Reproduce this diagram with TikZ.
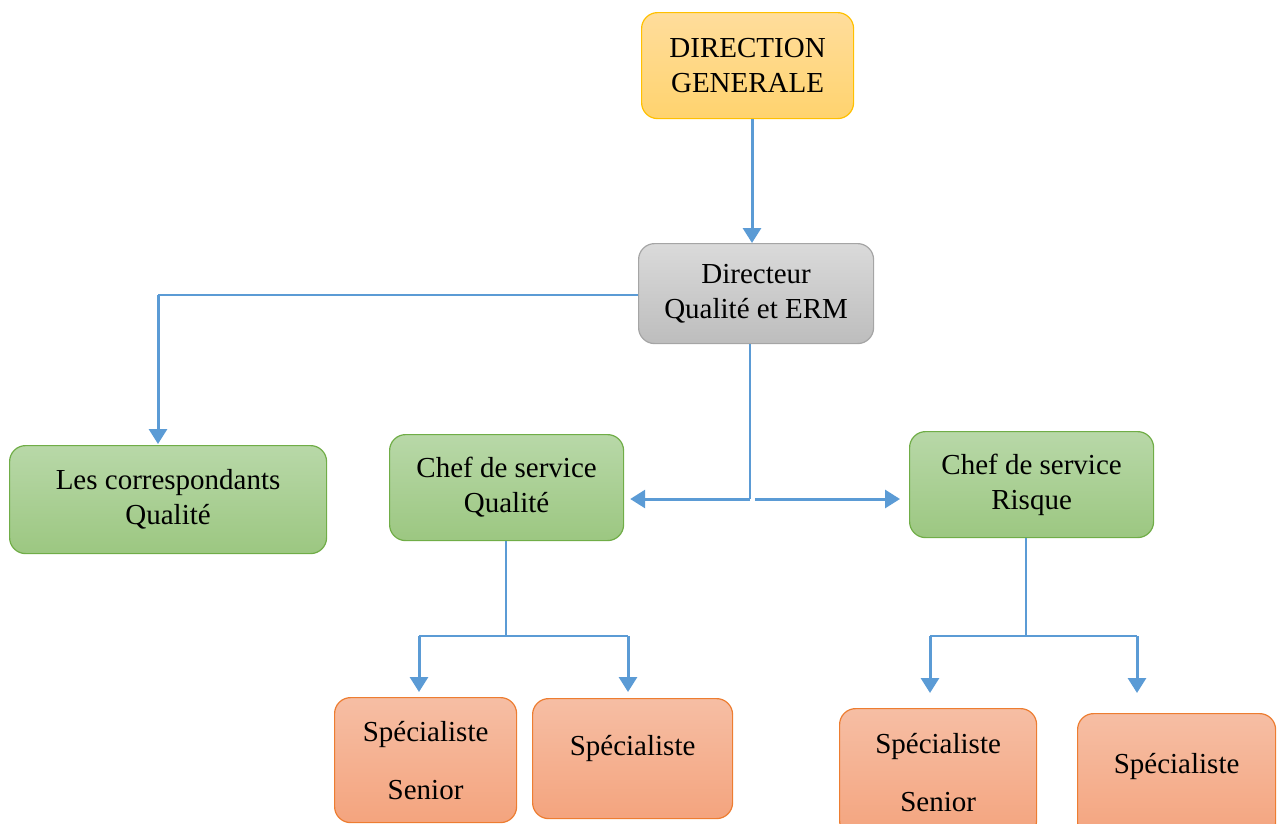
\documentclass[tikz,border=0pt]{standalone}
\usepackage{fontspec}
\setmainfont{Liberation Serif}
\usetikzlibrary{arrows.meta,calc}
\definecolor{lnblue}{HTML}{5B9BD5}
\definecolor{dgtop}{HTML}{FFDD9C}
\definecolor{dgbot}{HTML}{FFD36E}
\definecolor{dgborder}{HTML}{FFC000}
\definecolor{grtop}{HTML}{DADADA}
\definecolor{grbot}{HTML}{BDBDBD}
\definecolor{grborder}{HTML}{A5A5A5}
\definecolor{gntop}{HTML}{B8D8A8}
\definecolor{gnbot}{HTML}{9CC781}
\definecolor{gnborder}{HTML}{70AD47}
\definecolor{ortop}{HTML}{F6BEA4}
\definecolor{orbot}{HTML}{F4A47E}
\definecolor{orborder}{HTML}{ED7D31}
\begin{document}
\begin{tikzpicture}[x=1pt,y=-1pt,
  box/.style={rounded corners=16pt, anchor=north west, align=center, inner sep=0pt,
    font=\fontsize{29}{35}\selectfont, line width=1.2pt, text=black},
  dgbox/.style={box, draw=dgborder, top color=dgtop, bottom color=dgbot},
  graybox/.style={box, draw=grborder, top color=grtop, bottom color=grbot},
  greenbox/.style={box, draw=gnborder, top color=gntop, bottom color=gnbot},
  specbox/.style={box, draw=orborder, top color=ortop, bottom color=orbot},
  thinline/.style={draw=lnblue, line width=1.3pt},
  arrowline/.style={draw=lnblue, line width=3pt, -{Triangle[width=18pt,length=15pt]}},
]
\useasboundingbox (0,0) rectangle (1278,823);
\clip (0,0) rectangle (1278,823);

\node[dgbox, minimum width=212pt, minimum height=106pt] (dg) at (641,12) {DIRECTION\\GENERALE};
\node[graybox, minimum width=235pt, minimum height=100pt] (dir) at (638,243) {Directeur\\Qualité et ERM};
\node[greenbox, minimum width=317pt, minimum height=108pt] (corr) at (9,445) {Les correspondants\\Qualité};
\node[greenbox, minimum width=234pt, minimum height=106pt] (cq) at (389,434) {Chef de service\\Qualité};
\node[greenbox, minimum width=244pt, minimum height=106pt] (cr) at (909,431) {Chef de service\\Risque};
\node[specbox, minimum width=182pt, minimum height=125pt] (ss1) at (334,697) {Spécialiste\\[23pt]Senior};
\node[specbox, minimum width=200pt, minimum height=120pt, text depth=26pt] (s1) at (532,698) {Spécialiste};
\node[specbox, minimum width=197pt, minimum height=128pt] (ss2) at (839,708) {Spécialiste\\[23pt]Senior};
\node[specbox, minimum width=198pt, minimum height=125pt, text depth=26pt] (s2) at (1077,713) {Spécialiste};

% direction -> directeur
\draw[arrowline] (dg.south -| 752,0) -- (dir.north -| 752,0);

% directeur -> correspondants
\coordinate (j1) at (158,295);
\draw[thinline] (dir.west |- j1) -- (j1);
\draw[arrowline, shorten >=1pt] (j1) -- (corr.north -| j1);

% directeur -> chefs de service
\coordinate (j2) at (750,499);
\coordinate (j2r) at (755,499);
\draw[thinline] (dir.south -| j2) -- (j2);
\draw[arrowline, shorten >=6pt] (j2) -- (j2 -| cq.east);
\draw[arrowline, shorten >=9pt] (j2r) -- (j2r -| cr.west);

% chef qualite -> specialistes
\coordinate (j3) at (506,637);
\coordinate (a1) at (419,636);
\coordinate (a2) at (628,636);
\draw[thinline] (cq.south -| j3) -- (j3);
\draw[thinline] (a1) -- (a2);
\draw[arrowline, shorten >=5pt] (a1) -- (a1 |- ss1.north);
\draw[arrowline, shorten >=6pt] (a2) -- (a2 |- s1.north);

% chef risque -> specialistes
\coordinate (j4) at (1026,637);
\coordinate (b1) at (930,636);
\coordinate (b2) at (1137,636);
\draw[thinline] (cr.south -| j4) -- (j4);
\draw[thinline] (b1) -- (b2);
\draw[arrowline, shorten >=15pt] (b1) -- (b1 |- ss2.north);
\draw[arrowline, shorten >=20pt] (b2) -- (b2 |- s2.north);
\end{tikzpicture}
\end{document}
